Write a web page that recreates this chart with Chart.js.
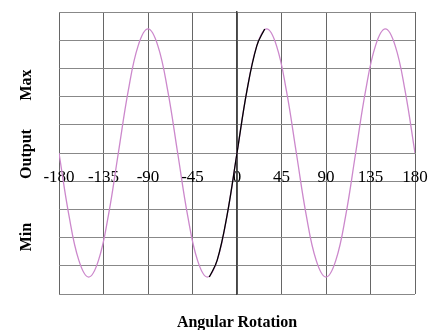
<!DOCTYPE html>
<html>
<head>
<meta charset="utf-8">
<script src="https://cdn.jsdelivr.net/npm/chart.js@4.4.1/dist/chart.umd.min.js"></script>
<style>
  body { margin: 0; background: #fff; }
  #wrap { position: relative; width: 432px; height: 330px; }
  .lbl { position: absolute; font-family: "Liberation Serif", "Times New Roman", serif; font-weight: bold; font-size: 16px; color: #000; white-space: nowrap; }
  .rot { transform: translate(-50%, -50%) rotate(-90deg); }
</style>
</head>
<body>
<div id="wrap">
  <canvas id="chart1" width="432" height="330"></canvas>
  <div class="lbl rot" style="left:26px; top:85px;">Max</div>
  <div class="lbl rot" style="left:26px; top:154px;">Output</div>
  <div class="lbl rot" style="left:26px; top:237px;">Min</div>
  <div class="lbl" style="left:237px; top:322px; transform: translate(-50%, -50%);">Angular Rotation</div>
</div>
<script>
// angle in degrees (x) and output (y, grid units -5..5)
var angles = [-180, -170, -160, -150, -140, -130, -120, -110, -100, -90, -80, -70, -60,
  -50, -40, -30, -20, -10, 0, 10, 20, 30, 40, 50, 60, 70, 80, 90, 100, 110, 120,
  130, 140, 150, 160, 170, 180];
var output = [0, -2.2, -3.8, -4.4, -3.8, -2.2, 0, 2.2, 3.8, 4.4, 3.8, 2.2, 0,
  -2.2, -3.8, -4.4, -3.8, -2.2, 0, 2.2, 3.8, 4.4, 3.8, 2.2, 0, -2.2, -3.8, -4.4,
  -3.8, -2.2, 0, 2.2, 3.8, 4.4, 3.8, 2.2, 0];

// black section
var blackAngles = [-28, -20, -10, 0, 10, 20, 28];
var blackOutput = [-4.4, -3.8, -2.2, 0, 2.2, 3.8, 4.4];

var tickLabels = [-180, -135, -90, -45, 0, 45, 90, 135, 180];

function pts(xs, ys) {
  var out = [];
  for (var i = 0; i < xs.length; i++) out.push({ x: xs[i], y: ys[i] });
  return out;
}

var datos = {
  type: "line",
  data: {
    datasets: [{
      data: pts(blackAngles, blackOutput),
      borderColor: "#000000",
      borderWidth: 1.3,
      pointRadius: 0,
      tension: 0.4,
      order: 0
    }, {
      data: pts(angles, output),
      borderColor: "#cc88cc",
      borderWidth: 1.3,
      pointRadius: 0,
      tension: 0.4,
      order: 1
    }]
  },
  options: {
    responsive: false,
    animation: false,
    layout: { padding: { left: 59, right: 17, top: 12, bottom: 36 } },
    plugins: { legend: { display: false }, tooltip: { enabled: false } },
    scales: {
      x: {
        type: "linear",
        position: { y: 0 },
        min: -180,
        max: 180,
        afterBuildTicks: function (axis) {
          axis.ticks = tickLabels.map(function (v) { return { value: v }; });
        },
        afterFit: function (axis) {
          axis.paddingLeft = 0;
          axis.paddingRight = 0;
        },
        ticks: {
          color: "#000",
          font: { family: "'Liberation Serif', 'Times New Roman', serif", size: 17 },
          padding: 10,
          maxRotation: 0,
          autoSkip: false
        },
        grid: { color: "#666", lineWidth: 1, drawTicks: true, tickLength: 4 },
        border: { color: "#888", width: 1 }
      },
      y: {
        type: "linear",
        position: { x: 0 },
        min: -5,
        max: 5,
        ticks: { display: false, stepSize: 1 },
        grid: { color: "#888", lineWidth: 1, drawTicks: true, tickLength: 3 },
        border: { color: "#444", width: 1.5 }
      }
    }
  }
};

var canvas = document.getElementById("chart1").getContext("2d");
window.pie = new Chart(canvas, datos);
</script>
</body>
</html>
